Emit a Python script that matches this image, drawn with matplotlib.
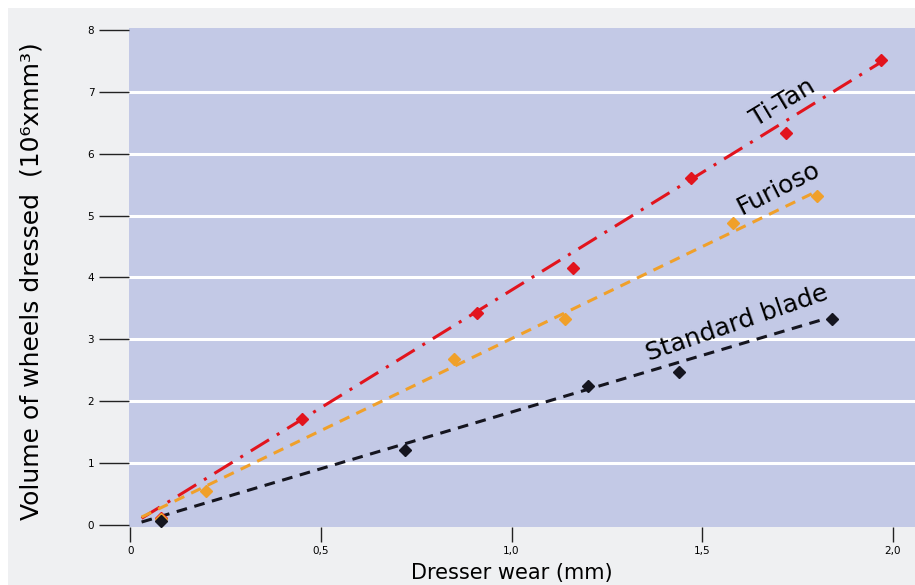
import matplotlib
matplotlib.use("Agg")
import matplotlib.pyplot as plt
import matplotlib.patches as patches

# measured points (dresser wear in mm, volume in 10^6 mm^3)
titan_x = [0.08, 0.45, 0.91, 1.16, 1.47, 1.72, 1.97]
titan_y = [0.12, 1.72, 3.42, 4.15, 5.60, 6.33, 7.52]
furioso_x = [0.08, 0.20, 0.85, 1.14, 1.58, 1.80]
furioso_y = [0.10, 0.55, 2.68, 3.33, 4.88, 5.32]
standard_x = [0.08, 0.72, 1.20, 1.44, 1.84]
standard_y = [0.06, 1.22, 2.25, 2.47, 3.33]

# end points of the fitted trend lines
titan_fit_x = [0.03, 1.98]
titan_fit_y = [0.11, 7.52]
furioso_fit_x = [0.03, 1.79]
furioso_fit_y = [0.13, 5.36]
standard_fit_x = [0.03, 1.81]
standard_fit_y = [0.05, 3.31]

x_ticks = [0, 0.5, 1.0, 1.5, 2.0]
x_labels = ["0", "0,5", "1,0", "1,5", "2,0"]
y_ticks = [0, 1, 2, 3, 4, 5, 6, 7, 8]
grid_levels = [1, 2, 3, 4, 5, 6, 7]

red = "#e2141d"
orange = "#f0a02a"
black = "#15151f"

fig = plt.figure(figsize=(9.15, 5.85), dpi=100)
fig.patch.set_facecolor("white")
# grey panel behind the chart
panel = patches.Rectangle((8 / 915, 0), 1, (585 - 8) / 585, transform=fig.transFigure,
                          facecolor="#eff0f2", edgecolor="none", zorder=-10)
fig.add_artist(panel)

ax = fig.add_axes([129 / 915, (585 - 527) / 585, 1 - 129 / 915, (527 - 28) / 585])
ax.set_zorder(1)
ax.set_facecolor("#c3c9e6")
for s in ax.spines.values():
    s.set_visible(False)

for g in grid_levels:
    ax.axhline(g, color="white", lw=2.2, zorder=1)

ax.plot(titan_fit_x, titan_fit_y, color=red, lw=2.2, dashes=(7, 3, 1, 3), zorder=2)
ax.plot(furioso_fit_x, furioso_fit_y, color=orange, lw=2.2, dashes=(3.5, 2.5), zorder=2)
ax.plot(standard_fit_x, standard_fit_y, color=black, lw=2.2, dashes=(3.5, 2.5), zorder=2)

ax.plot(titan_x, titan_y, "D", color=red, ms=6.5, zorder=3)
ax.plot(furioso_x, furioso_y, "D", color=orange, ms=6.5, zorder=3)
ax.plot(standard_x, standard_y, "D", color=black, ms=6.5, zorder=4)

ax.text(1.71, 6.82, "Ti-Tan", rotation=31, fontsize=18, ha="center", va="center")
ax.text(1.70, 5.44, "Furioso", rotation=27, fontsize=18, ha="center", va="center")
ax.text(1.59, 3.26, "Standard blade", rotation=19, fontsize=18, ha="center", va="center")

ax.set_xlim(-0.003, 2.058)
ax.set_ylim(-0.03, 8.03)
ax.set_xticks(x_ticks)
ax.set_xticklabels(x_labels)
ax.set_yticks(y_ticks)
ax.tick_params(axis="y", direction="out", length=21.5, width=1, pad=3.5,
               labelsize=7.5, color="#222222")
ax.tick_params(axis="x", direction="out", length=11, width=1, pad=3,
               labelsize=7.5, color="#222222")

fig.text(512 / 915, (585 - 573) / 585, "Dresser wear (mm)", fontsize=15,
         ha="center", va="center")
fig.text(32 / 915, (585 - 281) / 585, "Volume of wheels dressed  (10⁶xmm³)",
         fontsize=18, rotation=90, ha="center", va="center")

fig.savefig("out.png", dpi=100)
